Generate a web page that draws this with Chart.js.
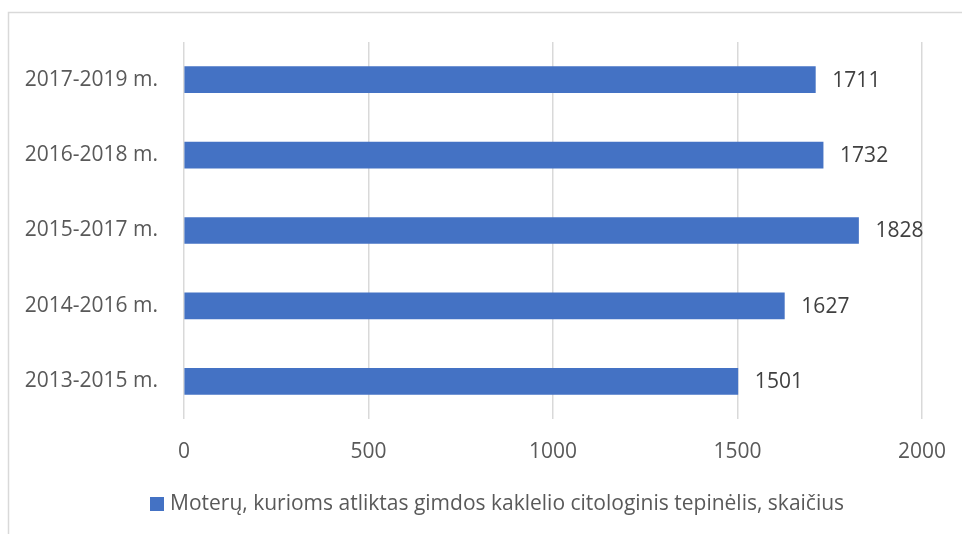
<!DOCTYPE html>
<html>
<head>
<meta charset="utf-8">
<script src="https://cdn.jsdelivr.net/npm/chart.js@4.4.1/dist/chart.umd.min.js"></script>
<style>
  html, body { margin: 0; padding: 0; background: #ffffff; }
  #wrap { position: relative; width: 962px; height: 534px; }
</style>
</head>
<body>
<div id="wrap"><canvas id="c" width="962" height="534"></canvas></div>
<script>
const categories = ["2017-2019 m.", "2016-2018 m.", "2015-2017 m.", "2014-2016 m.", "2013-2015 m."];
const seriesValues = [1711, 1732, 1828, 1627, 1501];
const seriesName = "Moterų, kurioms atliktas gimdos kaklelio citologinis tepinėlis, skaičius";
const tickValues = [0, 500, 1000, 1500, 2000];

const FONT = "'Open Sans', 'Noto Sans', sans-serif";

const frame = {
  id: 'frame',
  beforeDraw(chart) {
    const ctx = chart.ctx;
    ctx.save();
    ctx.strokeStyle = '#d9d9d9';
    ctx.lineWidth = 1.5;
    ctx.beginPath();
    ctx.moveTo(8.5, 540);
    ctx.lineTo(8.5, 12.5);
    ctx.lineTo(970, 12.5);
    ctx.stroke();
    ctx.restore();
  }
};

const dataLabels = {
  id: 'dataLabels',
  afterDatasetsDraw(chart) {
    const ctx = chart.ctx;
    const meta = chart.getDatasetMeta(0);
    ctx.save();
    ctx.font = "21px " + FONT;
    ctx.fillStyle = '#404040';
    ctx.textAlign = 'left';
    ctx.textBaseline = 'middle';
    meta.data.forEach((bar, i) => {
      ctx.fillText(String(chart.data.datasets[0].data[i]), bar.x + 17, bar.y + 1);
    });
    ctx.restore();
  }
};

const bottomLegend = {
  id: 'bottomLegend',
  afterDraw(chart) {
    const ctx = chart.ctx;
    const ds = chart.data.datasets[0];
    ctx.save();
    ctx.fillStyle = ds.backgroundColor;
    ctx.fillRect(150, 497, 14, 14);
    ctx.font = "21px " + FONT;
    ctx.fillStyle = '#595959';
    ctx.textAlign = 'left';
    ctx.textBaseline = 'middle';
    ctx.fillText(ds.label, 170, 504);
    ctx.restore();
  }
};

new Chart(document.getElementById('c'), {
  type: 'bar',
  data: {
    labels: categories,
    datasets: [{
      label: seriesName,
      data: seriesValues,
      backgroundColor: '#4472C4',
      borderWidth: 0,
      barThickness: 26
    }]
  },
  options: {
    indexAxis: 'y',
    responsive: false,
    animation: false,
    devicePixelRatio: 1,
    layout: { padding: { top: 42, right: 40, left: 0, bottom: 48 } },
    scales: {
      x: {
        min: 0, max: 2000,
        afterBuildTicks(scale) { scale.ticks = tickValues.map(v => ({ value: v })); },
        afterFit(scale) { scale.height = 67; scale.paddingRight = 0; scale.paddingLeft = 0; },
        grid: { color: '#d9d9d9', lineWidth: 1.5, drawTicks: false },
        border: { display: false },
        ticks: {
          padding: 20, color: '#595959', font: { family: FONT, size: 21 },
          callback: (v) => String(v)
        }
      },
      y: {
        afterFit(scale) { scale.width = 184; },
        grid: { display: false },
        border: { display: false },
        ticks: { padding: 18, color: '#595959', font: { family: FONT, size: 21 } }
      }
    },
    plugins: {
      legend: { display: false },
      tooltip: { enabled: false }
    }
  },
  plugins: [frame, dataLabels, bottomLegend]
});
</script>
</body>
</html>
